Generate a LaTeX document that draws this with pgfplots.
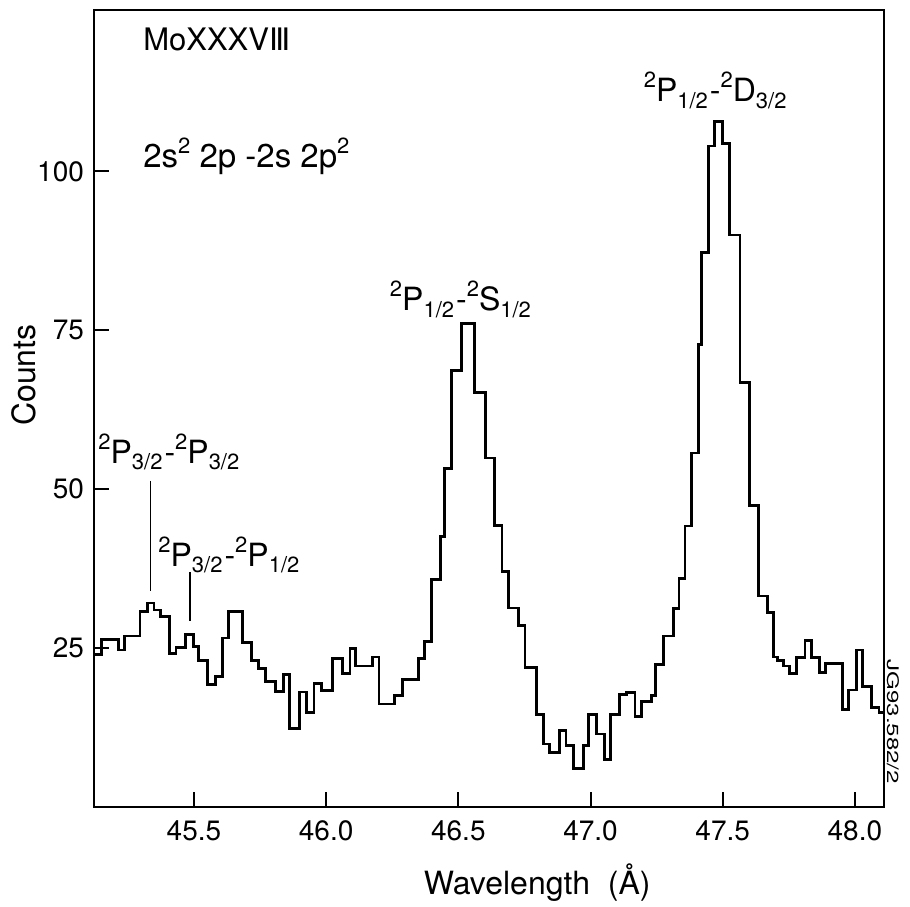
\documentclass[border=0pt]{standalone}
\usepackage{fontspec}
\setmainfont{TeX Gyre Heros}
\newfontfamily\dejavu{DejaVu Sans}
\usepackage{pgfplots}
\pgfplotsset{compat=1.18}
\newcommand{\term}[3]{{\fontsize{11}{10}\selectfont\raisebox{7pt}{#1}}#2{\fontsize{11}{10}\selectfont\raisebox{-3.3pt}{#3}}}
\begin{document}
\begin{tikzpicture}
\begin{axis}[
  scale only axis, width=395pt, height=398.5pt,
  xmin=45.122, xmax=48.110, ymin=0, ymax=125.4,
  clip=false,
  axis line style={line width=1.1pt},
  xtick={45.5,46.0,46.5,47.0,47.5,48.0}, ytick={25,50,75,100},
  tick pos=left, tick align=inside,
  major tick length=7.5pt, tick style={line width=1pt, black},
  /pgf/number format/assume math mode=true,
  xticklabel style={/pgf/number format/.cd, fixed, fixed zerofill, precision=1, /tikz/.cd, font=\fontsize{14}{16}\selectfont, yshift=-3.5pt},
  yticklabel style={font=\fontsize{14}{16}\selectfont, xshift=-1.5pt},
  xlabel={Wavelength\ \ (Å)},
  xlabel style={font=\fontsize{16}{19}\selectfont, at={(axis description cs:0.561,-0.095)}, anchor=center},
  ylabel={Counts},
  ylabel style={font=\fontsize{16}{19}\selectfont, at={(axis description cs:-0.0886,0.542)}, anchor=center},
]
\addplot[const plot, line width=1.4pt, black] coordinates {
(45.122,24.0) (45.151,26.4) (45.214,24.7) (45.236,26.9) (45.296,30.8)
(45.323,32.1) (45.349,31.0) (45.375,30.0) (45.407,24.1) (45.432,25.1)
(45.469,27.1) (45.497,25.2) (45.516,23.0) (45.550,19.3) (45.583,20.5)
(45.607,26.6) (45.630,30.7) (45.683,25.9) (45.718,23.1) (45.743,21.8)
(45.772,19.7) (45.809,18.2) (45.838,20.8) (45.860,12.4) (45.898,18.1)
(45.926,14.9) (45.954,19.4) (45.983,18.3) (46.025,23.4) (46.061,21.0)
(46.090,24.9) (46.112,22.2) (46.176,23.6) (46.200,16.2) (46.260,17.6)
(46.289,20.0) (46.348,23.4) (46.371,26.1) (46.399,35.8) (46.434,42.6)
(46.449,53.3) (46.475,68.7) (46.512,76.1) (46.560,65.2) (46.604,54.9)
(46.638,44.3) (46.665,37.1) (46.689,31.3) (46.727,28.5) (46.752,21.9)
(46.796,14.5) (46.821,9.9) (46.844,8.6) (46.884,12.0) (46.907,9.7)
(46.935,6.0) (46.972,9.7) (46.991,14.6) (47.023,11.5) (47.054,7.5)
(47.077,14.6) (47.109,17.7) (47.137,18.0) (47.168,14.2) (47.193,16.6)
(47.231,17.6) (47.247,22.4) (47.275,26.9) (47.313,31.2) (47.335,35.9)
(47.357,44.2) (47.382,55.7) (47.407,72.8) (47.420,87.3) (47.445,104.0)
(47.469,107.8) (47.499,104.4) (47.527,90.0) (47.565,66.8) (47.600,47.4)
(47.636,33.2) (47.670,30.6) (47.691,23.6) (47.708,23.1) (47.729,22.2)
(47.754,21.0) (47.779,23.5) (47.811,26.2) (47.836,23.5) (47.865,21.2)
(47.889,22.6) (47.952,15.4) (47.977,18.4) (48.006,24.7) (48.028,18.9)
(48.063,15.7) (48.091,14.9) (48.110,14.9)
};
\draw[line width=0.8pt] (axis cs:45.336,51.3) -- (axis cs:45.336,34.0);
\draw[line width=0.8pt] (axis cs:45.485,37.0) -- (axis cs:45.485,29.3);
\node[anchor=base west, inner sep=0pt, font=\fontsize{15.5}{18}\selectfont] at (axis cs:45.307,119.1) {MoXXXV{\dejavu Ⅲ}};
\node[anchor=base west, inner sep=0pt, font=\fontsize{16.5}{19}\selectfont] at (axis cs:45.307,100.6) {2s\raisebox{7pt}{\fontsize{11}{10}\selectfont 2} 2p -2s 2p\raisebox{7pt}{\fontsize{11}{10}\selectfont 2}};
\node[anchor=base west, inner sep=0pt, font=\fontsize{16}{19}\selectfont] at (axis cs:45.137,54.1) {\term{2}{P}{3/2}\kern1pt-\term{2}{P}{3/2}};
\node[anchor=base west, inner sep=0pt, font=\fontsize{16}{19}\selectfont] at (axis cs:45.364,37.9) {\term{2}{P}{3/2}\kern1pt-\term{2}{P}{1/2}};
\node[anchor=base west, inner sep=0pt, font=\fontsize{16}{19}\selectfont] at (axis cs:46.240,78.1) {\term{2}{P}{1/2}\kern1pt-\term{2}{S}{1/2}};
\node[anchor=base west, inner sep=0pt, font=\fontsize{16}{19}\selectfont] at (axis cs:47.200,111.0) {\term{2}{P}{1/2}\kern1pt-\term{2}{D}{3/2}};
\node[rotate=-90, anchor=center, inner sep=0pt, font=\fontsize{8}{9}\selectfont] at (axis description cs:1.0114,0.107) {\scalebox{1.5}[1]{JG93.582/2}};
\end{axis}
\pgfresetboundingbox
\path[use as bounding box] ([xshift=-47pt,yshift=-49.5pt]current axis.south west) rectangle ([xshift=13pt,yshift=5pt]current axis.north east);
\end{tikzpicture}
\end{document}
